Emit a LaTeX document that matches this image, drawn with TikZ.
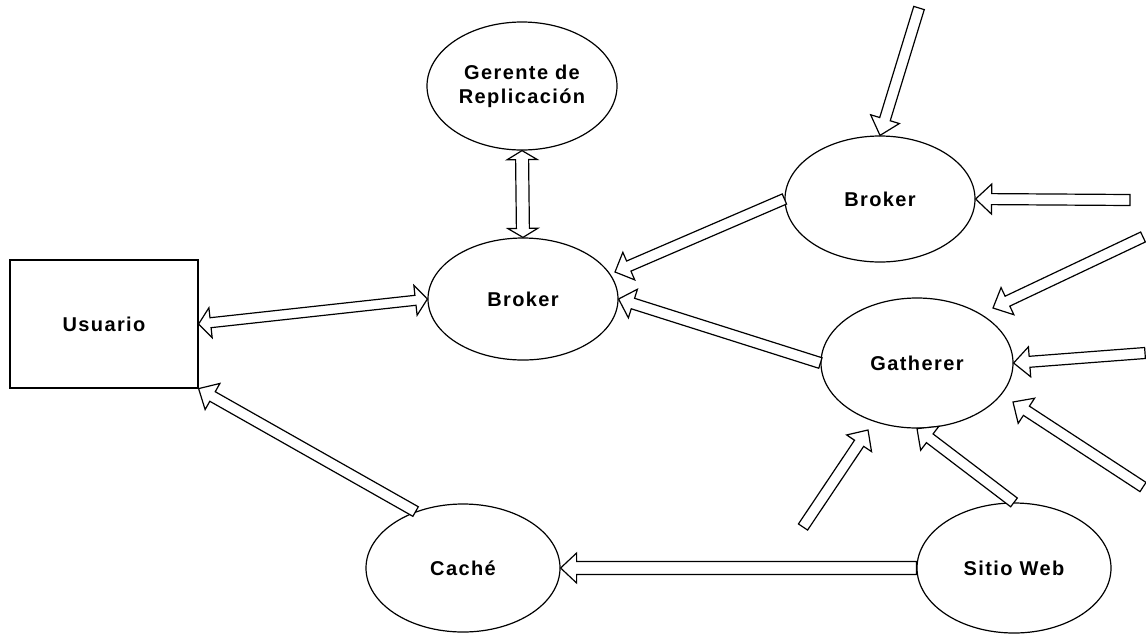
\documentclass[tikz,border=0pt]{standalone}
\usepackage{fontspec}
\newfontfamily\lblfont{Liberation Sans}[LetterSpace=7, UprightFont={* Bold}]
\usetikzlibrary{shapes.geometric,calc}
\tikzset{
  blk/.style={draw=black, line width=1.2pt, fill=white, line join=miter},
  oval/.style={ellipse, draw, line width=1.2pt, inner sep=0pt, fill=white,
    font=\lblfont\fontsize{20}{24}\selectfont, align=center},
  box/.style={rectangle, draw, line width=1.2pt, inner sep=0pt,
    font=\lblfont\fontsize{20}{24}\selectfont},
}
% tail, tip, shaft half width, head half width, head length
\newcommand\blockarr[5]{%
  \coordinate (bh) at ($(#2)!#5!(#1)$);
  \draw[blk] ($(#1)!#3!90:(#2)$) -- ($(bh)!#3!90:(#2)$) -- ($(bh)!#4!90:(#2)$)
    -- (#2) -- ($(bh)!#4!-90:(#2)$) -- ($(bh)!#3!-90:(#2)$)
    -- ($(#1)!#3!-90:(#2)$) -- cycle;}
\newcommand\dblarr[5]{%
  \coordinate (ha) at ($(#1)!#5!(#2)$);
  \coordinate (hb) at ($(#2)!#5!(#1)$);
  \draw[blk] (#1) -- ($(ha)!#4!90:(#2)$) -- ($(ha)!#3!90:(#2)$)
    -- ($(hb)!#3!90:(#2)$) -- ($(hb)!#4!90:(#2)$) -- (#2)
    -- ($(hb)!#4!-90:(#2)$) -- ($(hb)!#3!-90:(#2)$)
    -- ($(ha)!#3!-90:(#2)$) -- ($(ha)!#4!-90:(#2)$) -- cycle;}
\begin{document}
\begin{tikzpicture}[x=1pt,y=-1pt]
\useasboundingbox (0,0) rectangle (1146,633);
\node[box, minimum width=188pt, minimum height=128pt] (usr) at (104,324) {Usuario};
\node[oval, minimum width=190pt, minimum height=128pt] (ger) at (522,86) {Gerente de\\Replicación};
\node[oval, minimum width=190pt, minimum height=122pt] (bk) at (523,299) {Broker};
\node[oval, minimum width=190pt, minimum height=126pt] (bk2) at (880,199) {Broker};
\node[oval, minimum width=192pt, minimum height=130pt] (gat) at (917,363) {Gatherer};
\node[oval, minimum width=194pt, minimum height=128pt] (cache) at (463,568) {Caché};
\node[oval, minimum width=194pt, minimum height=130pt] (web) at (1014,568) {Sitio Web};

\coordinate (t1) at (919,8);
\coordinate (t2) at (1130,200);
\coordinate (g1) at (1143,237);
\coordinate (g1h) at (993,308);
\coordinate (g2) at (1145,353);
\coordinate (g3) at (1143,487);
\coordinate (g3h) at (1013,402);
\coordinate (g4) at (803,527);
\coordinate (g4h) at (868,430);
\coordinate (bkin) at (615,272);

\dblarr{ger.south}{bk.north}{6.5pt}{15pt}{9pt}
\dblarr{usr.east}{bk.west}{5pt}{15pt}{12pt}
\blockarr{bk2.west}{bkin}{5.5pt}{15pt}{15pt}
\blockarr{gat.west}{bk.east}{5.5pt}{15pt}{15pt}
\blockarr{t1}{bk2.north}{5.5pt}{15pt}{17pt}
\blockarr{t2}{bk2.east}{5.5pt}{15pt}{16pt}
\blockarr{g1}{g1h}{5.5pt}{15pt}{16pt}
\blockarr{g2}{gat.east}{5.5pt}{15pt}{16pt}
\blockarr{g3}{g3h}{5.5pt}{15pt}{16pt}
\blockarr{g4}{g4h}{5.5pt}{15pt}{16pt}
\blockarr{web.north}{gat.south}{5.5pt}{15pt}{16pt}
\blockarr{cache.130}{usr.south east}{5.5pt}{15pt}{16pt}
\blockarr{web.west}{cache.east}{6.5pt}{15pt}{16pt}
\end{tikzpicture}
\end{document}
